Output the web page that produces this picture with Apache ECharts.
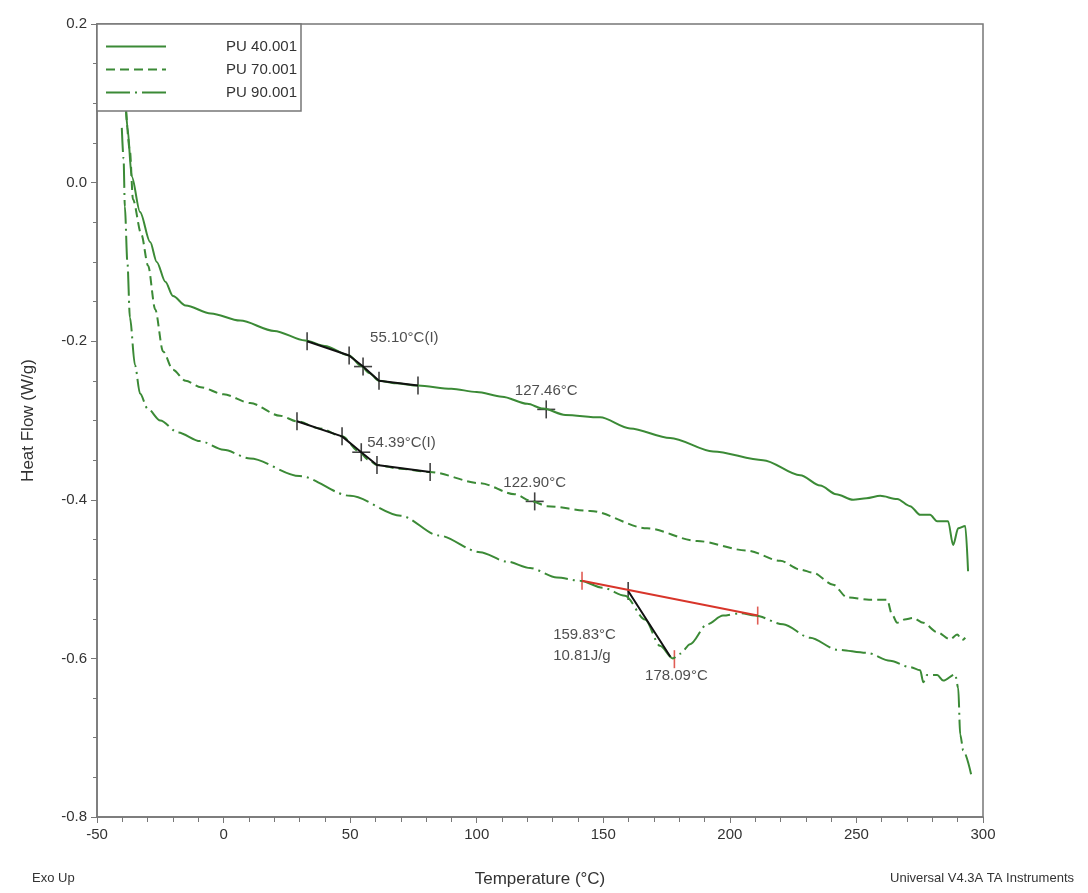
<!DOCTYPE html>
<html>
<head>
<meta charset="utf-8">
<script src="https://cdn.jsdelivr.net/npm/echarts@6/dist/echarts.min.js"></script>
<style>
  html, body { margin: 0; padding: 0; background: #fff; }
  #main { width: 1088px; height: 893px; }
</style>
</head>
<body>
<div id="main"></div>
<script>
// temperatures (°C) and heat flow (W/g)
var pu40T = [-38.5, -38, -36.3, -33, -29, -26.4, -23, -20, -15, -5, 6.5, 20, 32.2, 40, 49.6, 54.3, 57.5, 61.4, 68, 76.8, 90, 100, 110, 120, 126.2, 135, 148.7, 160.6, 176.4, 193.4, 213.1, 227.8, 235.7, 242, 248.7, 254, 259.4, 266.1, 271.2, 275.2, 279.1, 281.9, 286.2, 288.2, 290.2, 293, 294.1];
var pu40H = [0.09, 0.07, 0.008, -0.037, -0.075, -0.100, -0.125, -0.143, -0.155, -0.165, -0.174, -0.187, -0.199, -0.206, -0.218, -0.231, -0.240, -0.250, -0.253, -0.256, -0.260, -0.264, -0.270, -0.279, -0.285, -0.293, -0.296, -0.310, -0.322, -0.339, -0.350, -0.369, -0.382, -0.393, -0.400, -0.398, -0.395, -0.399, -0.408, -0.419, -0.419, -0.427, -0.427, -0.457, -0.436, -0.433, -0.490];

var pu70T = [-38.5, -37, -35.8, -32.5, -29.8, -27, -23.9, -20, -15, -9, 0, 10.5, 22.3, 29, 38, 46.8, 53.5, 57, 60.6, 70, 81.6, 101.3, 115, 121.9, 127.8, 144.8, 167.3, 187.1, 206.8, 219.9, 227.8, 232.9, 240.8, 246.3, 255, 262.1, 264.1, 266.1, 269, 272.4, 276.4, 281.9, 287, 289.8, 291.8, 293];
var pu70H = [0.09, 0.04, -0.021, -0.065, -0.105, -0.16, -0.213, -0.236, -0.250, -0.258, -0.267, -0.278, -0.294, -0.301, -0.310, -0.320, -0.339, -0.349, -0.356, -0.361, -0.365, -0.379, -0.393, -0.402, -0.408, -0.414, -0.436, -0.452, -0.464, -0.477, -0.488, -0.492, -0.507, -0.523, -0.526, -0.526, -0.545, -0.555, -0.551, -0.549, -0.555, -0.567, -0.576, -0.570, -0.577, -0.574];

var pu90T = [-40.2, -39.5, -39, -38, -37, -35, -33, -30, -25, -18, -9.3, 0, 10.5, 30, 50, 70, 85, 101.3, 112, 121.1, 131.7, 140.8, 149.9, 158.6, 166.5, 172.4, 177.5, 180.4, 184.3, 191, 197.3, 204, 210, 221, 231.7, 242.4, 254.2, 263.3, 271.2, 275.2, 276.4, 277.9, 281.9, 284.3, 289, 290.2, 291, 292.2, 295.3];
var pu90H = [0.069, 0.03, -0.03, -0.10, -0.17, -0.23, -0.266, -0.285, -0.300, -0.315, -0.326, -0.337, -0.348, -0.370, -0.395, -0.420, -0.445, -0.466, -0.478, -0.486, -0.498, -0.502, -0.511, -0.521, -0.551, -0.584, -0.600, -0.594, -0.582, -0.557, -0.546, -0.543, -0.546, -0.557, -0.574, -0.589, -0.593, -0.603, -0.611, -0.615, -0.630, -0.621, -0.621, -0.628, -0.620, -0.637, -0.696, -0.716, -0.746];

// analysis marks
var tg40Pts = [[33, -0.200], [49.6, -0.218], [55.10, -0.232], [61.4, -0.250], [76.8, -0.256]];
var tg70Pts = [[29, -0.301], [46.8, -0.320], [54.39, -0.340], [60.6, -0.356], [81.6, -0.365]];
var tickPts = [[33, -0.200], [49.6, -0.218], [61.4, -0.250], [76.8, -0.256], [29, -0.301], [46.8, -0.320], [60.6, -0.356], [81.6, -0.365], [159.83, -0.515]];
var crossPts = [[55.10, -0.232], [127.46, -0.286], [54.39, -0.340], [122.90, -0.402]];
var baseLine = [[141.6, -0.502], [211, -0.546]];
var onsetLine = [[159.83, -0.515], [176.5, -0.598]];
var redTicks = [[141.6, -0.502], [211, -0.546], [178.09, -0.601]];

var green = '#3b8a36';

function pairs(t, h) {
    var res = [];
    for (var i = 0; i < t.length; i++) res.push([t[i], h[i]]);
    return res;
}

var dom = document.getElementById('main');
var myChart = echarts.init(dom);
var option = {
    animation: false,
    textStyle: { fontFamily: 'Liberation Sans' },
    grid: {
        left: 97, right: 105, top: 24, bottom: 73,
        show: true, borderColor: '#777', borderWidth: 1.5
    },
    legend: {
        orient: 'vertical',
        left: 97, top: 24,
        backgroundColor: '#fff',
        borderColor: '#777', borderWidth: 1.5,
        borderRadius: 0,
        padding: [15, 4, 11, 8],
        itemWidth: 60, itemHeight: 10, itemGap: 8,
        itemStyle: { opacity: 0 },
        formatter: function (name) { return '{a|' + name + '}'; },
        textStyle: {
            fontSize: 15, color: '#333',
            rich: { a: { fontSize: 15, color: '#333', width: 126, align: 'right' } }
        },
        data: ['PU 40.001', 'PU 70.001', 'PU 90.001']
    },
    xAxis: {
        type: 'value',
        min: -50, max: 300, interval: 50,
        name: 'Temperature (°C)',
        nameLocation: 'middle', nameGap: 54,
        nameTextStyle: { fontSize: 17, color: '#333' },
        axisLine: { onZero: false, lineStyle: { color: '#777', width: 1.5 } },
        axisTick: { length: 6, lineStyle: { color: '#777' } },
        minorTick: { show: true, splitNumber: 5, length: 5, lineStyle: { color: '#777' } },
        splitLine: { show: false },
        axisLabel: { fontSize: 15, color: '#333', margin: 10 }
    },
    yAxis: {
        type: 'value',
        min: -0.8, max: 0.2, interval: 0.2,
        name: 'Heat Flow (W/g)',
        nameLocation: 'middle', nameGap: 60,
        nameTextStyle: { fontSize: 17, color: '#333' },
        axisLine: { show: true, onZero: false, lineStyle: { color: '#777', width: 1.5 } },
        axisTick: { show: true, length: 6, lineStyle: { color: '#777' } },
        minorTick: { show: true, splitNumber: 4, length: 4, lineStyle: { color: '#777' } },
        splitLine: { show: false },
        axisLabel: {
            fontSize: 15, color: '#333', margin: 10,
            formatter: function (v) { return v.toFixed(1); }
        }
    },
    graphic: [
        { type: 'text', left: 32, top: 872, style: { text: 'Exo Up', fontSize: 13, fill: '#333', fontFamily: 'Liberation Sans' } },
        { type: 'text', right: 14, top: 872, style: { text: 'Universal V4.3A TA Instruments', fontSize: 13, fill: '#333', fontFamily: 'Liberation Sans' } }
    ],
    series: [
        {
            name: 'PU 40.001', type: 'line', symbol: 'none',
            smooth: 0.3, smoothMonotone: 'x',
            lineStyle: { color: green, width: 2 }, itemStyle: { color: green },
            data: pairs(pu40T, pu40H)
        },
        {
            name: 'PU 70.001', type: 'line', symbol: 'none',
            smooth: 0.3, smoothMonotone: 'x',
            lineStyle: { color: green, width: 2, type: [9, 5] }, itemStyle: { color: green },
            data: pairs(pu70T, pu70H)
        },
        {
            name: 'PU 90.001', type: 'line', symbol: 'none',
            smooth: 0.3, smoothMonotone: 'x',
            lineStyle: { color: green, width: 2, type: [24, 5, 2, 5] }, itemStyle: { color: green },
            data: pairs(pu90T, pu90H)
        },
        {
            type: 'line', symbol: 'none', silent: true,
            lineStyle: { color: '#111', width: 2 },
            data: tg40Pts.concat(['-'], tg70Pts, ['-'], onsetLine)
        },
        {
            type: 'line', symbol: 'none', silent: true,
            lineStyle: { color: '#d8352a', width: 2 },
            data: baseLine
        },
        {
            type: 'scatter', symbol: 'rect', symbolSize: [1.6, 18], silent: true,
            itemStyle: { color: '#111' },
            data: tickPts.concat(crossPts)
        },
        {
            type: 'scatter', symbol: 'rect', symbolSize: [18, 1.6], silent: true,
            itemStyle: { color: '#111' },
            data: crossPts
        },
        {
            type: 'scatter', symbol: 'rect', symbolSize: [1.6, 18], silent: true,
            itemStyle: { color: '#d8352a' },
            data: redTicks
        },
        {
            type: 'scatter', symbolSize: 0, silent: true,
            label: { show: true, fontSize: 15, color: '#222', fontFamily: 'Liberation Sans' },
            data: [
                { value: crossPts[0], label: { formatter: '55.10°C(I)', position: 'right', offset: [2, -29] } },
                { value: crossPts[1], label: { formatter: '127.46°C', position: 'top', offset: [0, -6] } },
                { value: crossPts[2], label: { formatter: '54.39°C(I)', position: 'right', offset: [1, -9] } },
                { value: crossPts[3], label: { formatter: '122.90°C', position: 'top', offset: [0, -6] } },
                { value: tickPts[8], label: { formatter: '159.83°C\n10.81J/g', position: 'left', align: 'left', lineHeight: 21, offset: [-70, 54] } },
                { value: redTicks[2], label: { formatter: '178.09°C', position: 'bottom', offset: [2, 4] } }
            ]
        }
    ]
};
if (option && typeof option === "object") {
    myChart.setOption(option, true);
}
</script>
</body>
</html>
